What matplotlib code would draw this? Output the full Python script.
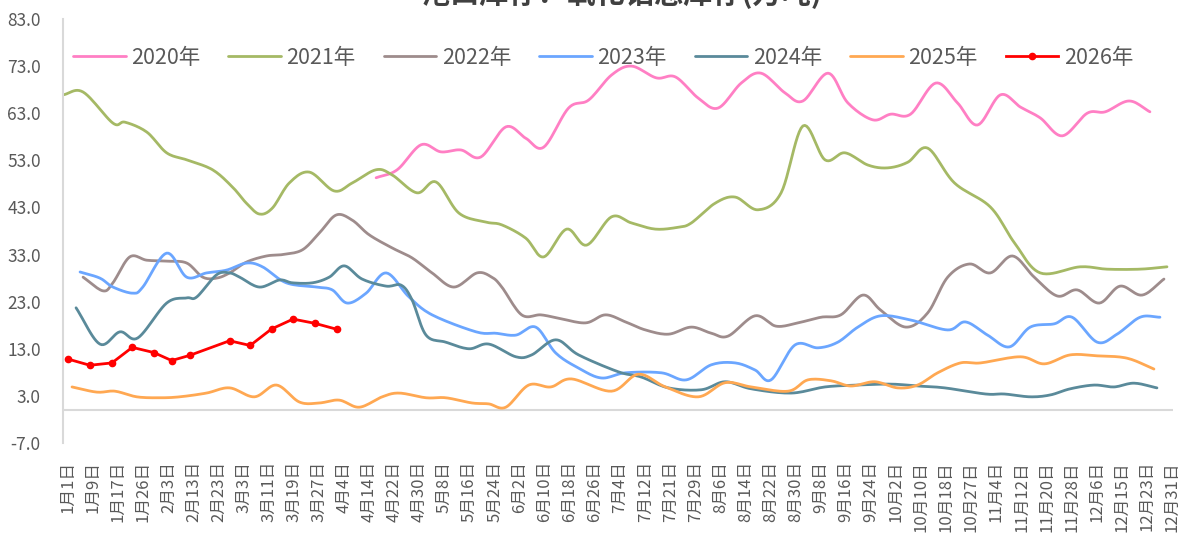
import numpy as np
import matplotlib
matplotlib.use("Agg")
import matplotlib.pyplot as plt

plt.rcParams['font.family'] = ['Noto Sans CJK SC', 'DejaVu Sans']

# x axis category labels (one every ~8 days)
tick_labels = ['1月1日', '1月9日', '1月17日', '1月26日', '2月3日', '2月13日', '2月23日', '3月3日',
               '3月11日', '3月19日', '3月27日', '4月4日', '4月14日', '4月22日', '4月30日', '5月8日',
               '5月16日', '5月24日', '6月2日', '6月10日', '6月18日', '6月26日', '7月4日', '7月12日',
               '7月21日', '7月29日', '8月6日', '8月14日', '8月22日', '8月30日', '9月8日', '9月16日',
               '9月24日', '10月2日', '10月10日', '10月18日', '10月27日', '11月4日', '11月12日', '11月20日',
               '11月28日', '12月6日', '12月15日', '12月23日', '12月31日']

# positions are in units of the tick labels above (0 = 1月1日, 44 = 12月31日)
pos_2020 = [12.28, 13.12, 14.07, 14.86, 15.66, 16.45, 17.45, 18.24, 18.96, 19.95, 20.75, 21.66, 22.46,
            23.45, 24.21, 25.12, 25.91, 26.83, 27.62, 28.58, 29.29, 30.29, 31.08, 32.07, 32.79, 33.58,
            34.58, 35.45, 36.25, 37.16, 37.96, 38.75, 39.63, 40.62, 41.34, 42.29, 43.12]
val_2020 = [49.3, 51.0, 56.3, 54.8, 55.2, 53.7, 60.1, 57.7, 55.8, 64.1, 65.8, 71.1, 73.0,
            70.5, 70.7, 66.2, 64.1, 69.4, 71.5, 67.3, 65.6, 71.5, 65.2, 61.6, 62.8, 62.8,
            69.4, 65.2, 60.5, 66.9, 64.3, 62.0, 58.2, 63.0, 63.3, 65.6, 63.3]

pos_2021 = [-0.20, 0.60, 1.79, 2.27, 3.14, 3.93, 4.73, 5.76, 6.56, 7.11, 7.63, 8.15, 8.82, 9.62, 10.61,
            11.33, 12.28, 12.92, 13.91, 14.67, 15.58, 16.65, 17.29, 18.24, 18.96, 19.87, 20.67, 21.66,
            22.46, 23.41, 24.32, 24.84, 25.79, 26.59, 27.50, 28.42, 29.29, 30.17, 30.96, 31.88, 32.67,
            33.47, 34.26, 35.33, 36.76, 37.72, 38.75, 40.34, 41.41, 42.73, 43.80]
val_2021 = [66.9, 67.5, 60.9, 61.1, 59.0, 54.6, 53.1, 51.0, 47.3, 43.9, 41.6, 42.9, 48.2, 50.5, 46.5,
            48.2, 51.0, 49.9, 46.1, 48.4, 41.8, 39.9, 39.3, 36.5, 32.5, 38.4, 35.0, 41.0,
            39.7, 38.4, 38.8, 39.7, 43.9, 45.2, 42.5, 46.1, 60.3, 53.1, 54.6, 52.0, 51.4,
            52.6, 55.6, 48.2, 43.1, 35.5, 29.1, 30.4, 29.9, 29.9, 30.4]

pos_2022 = [0.60, 1.39, 1.79, 2.46, 3.14, 3.93, 4.73, 5.37, 5.92, 6.44, 7.11, 7.91, 8.55, 9.34, 10.02,
            10.69, 11.33, 12.00, 12.92, 13.71, 14.51, 15.38, 16.30, 16.89, 17.29, 18.08, 18.84, 19.55,
            20.63, 21.42, 22.22, 23.01, 23.93, 24.84, 25.64, 26.31, 27.38, 28.22, 29.09, 30.01, 30.80,
            31.68, 32.39, 33.39, 34.26, 35.06, 35.93, 36.76, 37.64, 38.51, 39.43, 40.22, 41.10, 41.93,
            42.81, 43.68]
val_2022 = [28.2, 25.3, 27.0, 32.5, 31.8, 31.6, 31.2, 28.2, 28.0, 29.1, 31.4, 32.7, 33.0, 34.0, 37.6,
            41.4, 40.3, 37.2, 34.4, 32.3, 29.1, 26.1, 29.1, 28.2, 26.1, 20.2, 20.2, 19.5,
            18.5, 20.2, 18.7, 17.0, 16.1, 17.6, 16.3, 15.7, 20.0, 17.8, 18.5, 19.7, 20.2,
            24.4, 21.2, 17.6, 20.6, 28.2, 31.0, 29.1, 32.7, 28.2, 24.2, 25.5, 22.7, 26.3,
            24.4, 27.8]

pos_2023 = [0.48, 1.27, 1.79, 2.58, 2.98, 3.93, 4.73, 5.52, 6.32, 7.11, 7.75, 8.70, 9.90, 10.53, 11.13,
            11.88, 12.68, 13.59, 14.51, 16.26, 17.05, 17.85, 18.64, 19.44, 20.35, 21.26, 22.22, 23.65,
            24.64, 25.64, 26.59, 27.38, 28.02, 28.97, 29.89, 30.68, 31.48, 32.39, 33.59, 35.06, 35.77,
            36.65, 37.52, 38.35, 39.31, 40.02, 41.02, 41.81, 42.73, 43.52]
val_2023 = [29.3, 28.0, 26.1, 24.8, 26.1, 33.3, 28.2, 29.1, 29.7, 31.2, 30.4, 27.0, 26.1, 25.5, 22.7,
            24.8, 29.1, 24.0, 20.2, 16.6, 16.3, 15.9, 17.6, 12.1, 8.9, 6.8, 7.9, 7.9,
            6.4, 9.6, 10.0, 8.5, 6.4, 13.8, 13.2, 14.4, 17.6, 20.0, 19.1, 17.0, 18.7,
            15.9, 13.4, 17.6, 18.3, 19.7, 14.4, 16.1, 19.7, 19.7]

pos_2024 = [0.32, 1.27, 2.07, 2.78, 3.93, 4.73, 5.13, 5.92, 6.44, 6.84, 7.63, 8.43, 8.94, 9.74, 10.41,
            11.01, 11.72, 12.68, 13.28, 13.71, 14.27, 15.06, 15.98, 16.77, 17.85, 18.48, 19.44, 20.35,
            21.94, 22.85, 23.93, 25.24, 26.19, 27.23, 28.82, 30.17, 31.48, 32.79, 33.86, 34.94, 36.57,
            37.32, 38.35, 39.15, 39.94, 40.90, 41.69, 42.49, 43.40]
val_2024 = [21.7, 14.0, 16.6, 15.3, 22.7, 23.8, 24.0, 28.7, 29.1, 28.2, 26.1, 27.6, 27.0, 27.0, 28.2,
            30.6, 27.8, 26.3, 26.5, 23.4, 15.9, 14.4, 13.0, 14.0, 11.3, 11.7, 14.9, 11.7,
            8.1, 7.0, 4.7, 4.3, 6.0, 4.5, 3.6, 4.9, 5.3, 5.5, 5.1, 4.7, 3.4,
            3.4, 2.8, 3.2, 4.5, 5.3, 4.9, 5.7, 4.7]

pos_2025 = [0.16, 1.15, 1.87, 2.74, 3.66, 4.45, 5.52, 6.44, 7.43, 8.31, 9.22, 10.02, 10.81, 11.61, 12.52,
            13.20, 14.27, 15.06, 16.10, 16.77, 17.45, 18.36, 19.24, 20.07, 21.66, 22.73, 23.81, 25.12,
            26.19, 27.23, 28.70, 29.49, 30.41, 31.20, 32.15, 33.07, 33.86, 34.66, 35.57, 36.37, 37.96,
            38.91, 39.94, 41.02, 42.21, 43.28]
val_2025 = [4.9, 3.8, 4.0, 2.8, 2.6, 2.8, 3.6, 4.7, 2.8, 5.3, 1.7, 1.5, 2.1, 0.6, 2.8,
            3.6, 2.6, 2.6, 1.5, 1.3, 0.6, 5.3, 4.9, 6.6, 4.0, 7.6, 4.9, 2.8,
            5.8, 4.9, 4.0, 6.4, 6.2, 5.1, 6.0, 4.7, 5.3, 7.9, 10.0, 10.0, 11.3,
            9.8, 11.7, 11.5, 11.0, 8.7]

pos_2026 = [0.01, 0.87, 1.75, 2.56, 3.42, 4.13, 4.85, 6.44, 7.26, 8.11, 8.97, 9.84, 10.74]
val_2026 = [10.8, 9.5, 10.0, 13.3, 12.2, 10.5, 11.6, 14.7, 13.7, 17.2, 19.3, 18.4, 17.1]

series = [
    ('2020年', pos_2020, val_2020, '#FF7FC4'),
    ('2021年', pos_2021, val_2021, '#A5B965'),
    ('2022年', pos_2022, val_2022, '#9E8C8C'),
    ('2023年', pos_2023, val_2023, '#6BA6FF'),
    ('2024年', pos_2024, val_2024, '#5A8A9A'),
    ('2025年', pos_2025, val_2025, '#FFA852'),
]


def smooth(x, y, n=12):
    # Catmull-Rom curve through the points, like Excel's smoothed lines
    x = np.asarray(x, float)
    y = np.asarray(y, float)
    px = np.concatenate([[2 * x[0] - x[1]], x, [2 * x[-1] - x[-2]]])
    py = np.concatenate([[2 * y[0] - y[1]], y, [2 * y[-1] - y[-2]]])
    t = np.linspace(0, 1, n, endpoint=False)
    xs, ys = [], []
    for i in range(1, len(px) - 2):
        for p, out in ((px, xs), (py, ys)):
            p0, p1, p2, p3 = p[i - 1], p[i], p[i + 1], p[i + 2]
            out.append(0.5 * (2 * p1 + (-p0 + p2) * t + (2 * p0 - 5 * p1 + 4 * p2 - p3) * t ** 2
                              + (-p0 + 3 * p1 - 3 * p2 + p3) * t ** 3))
    xs.append([x[-1]])
    ys.append([y[-1]])
    return np.concatenate(xs), np.concatenate(ys)


fig = plt.figure(figsize=(11.89, 5.34), dpi=100)
ax = fig.add_axes([63 / 1189, 1 - 443 / 534, (1173 - 63) / 1189, (443 - 19) / 534])

for name, pos, val, color in series:
    sx, sy = smooth(pos, val)
    ax.plot(sx, sy, color=color, lw=2.0, label=name, solid_capstyle='round')

ax.plot(pos_2026, val_2026, color='#FF0000', lw=2.0, marker='o', markersize=4.5,
        markerfacecolor='#FF0000', markeredgecolor='#FF0000', label='2026年')

ax.axhline(0, color='#D9D9D9', lw=1.5, zorder=0)

ax.set_xlim(-0.2, 44.04)
ax.set_ylim(-7, 83)
ax.set_yticks(np.arange(-7, 84, 10))
ax.set_yticklabels([f'{v:.1f}' for v in np.arange(-7, 84, 10)])
ax.set_xticks(range(len(tick_labels)))
ax.set_xticklabels(tick_labels, rotation=90)

for s in ['top', 'right', 'bottom']:
    ax.spines[s].set_visible(False)
ax.spines['left'].set_color('#D9D9D9')
ax.spines['left'].set_linewidth(1.5)
ax.tick_params(axis='y', length=0, pad=16, labelsize=12.5, labelcolor='#595959')
ax.tick_params(axis='x', length=0, pad=13, labelsize=12, labelcolor='#595959')

leg = ax.legend(loc='center left', bbox_to_anchor=(73 / 1189, 1 - 58 / 534), bbox_transform=fig.transFigure,
                ncol=7, frameon=False, fontsize=15.5, handlelength=2.45, handletextpad=0.25,
                columnspacing=1.3, borderaxespad=0, borderpad=0)
for t in leg.get_texts():
    t.set_color('#595959')

# title sits partly above the top edge, as in the source image
fig.text(0.523, 1 - 3 / 534, '港口库存：氧化铝总库存(万吨)', ha='center', va='baseline',
         fontsize=21, color='#404040', fontweight='bold')

plt.savefig('out.png')
